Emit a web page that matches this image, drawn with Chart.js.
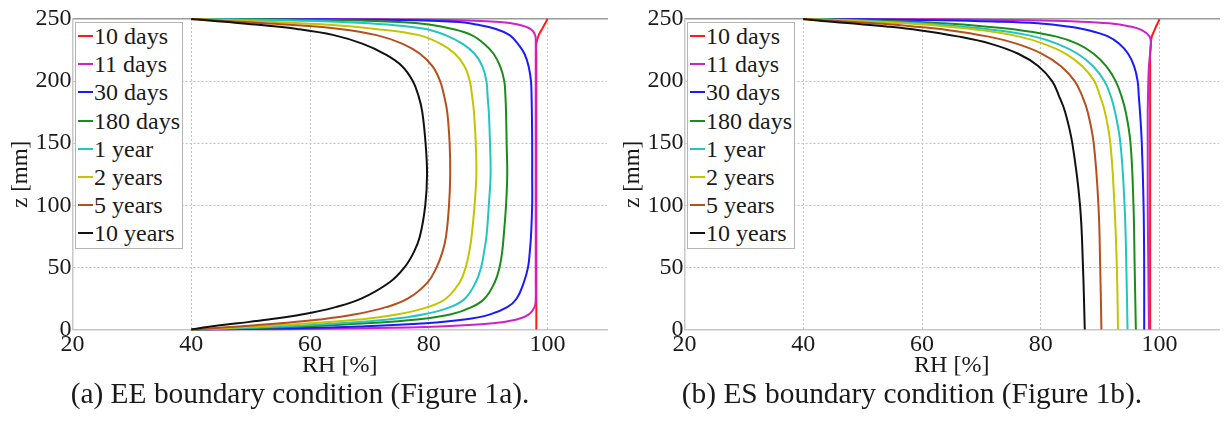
<!DOCTYPE html>
<html>
<head>
<meta charset="utf-8">
<script src="https://cdn.jsdelivr.net/npm/chart.js@4.4.0/dist/chart.umd.min.js"></script>
<style>
  body { margin: 0; background: #fff; }
  #wrap { position: relative; width: 1224px; height: 421px; font-family: "Liberation Serif", serif; color: #1a1a1a; }
  .panel { position: absolute; top: 0; width: 612px; height: 421px; }
  .panel canvas { position: absolute; left: 0; top: 0; }
  .legend { position: absolute; left: 75px; top: 21.7px; width: 108px; height: 227px; box-sizing: border-box;
            border: 1px solid #b4b4b4; background: #fff; padding-top: 0; }
  .legend .row { display: flex; align-items: center; height: 28.2px; font-size: 24px; line-height: 1; white-space: nowrap; position: relative; top: -0.8px; }
  .legend .swatch { width: 15px; height: 2px; margin-left: 2px; margin-right: 1px; flex: none; }
  .caption { position: absolute; left: 0; top: 378.8px; width: 600px; text-align: center; font-size: 29.4px; line-height: 28px; }
</style>
</head>
<body>
<div id="wrap">
  <div class="panel" style="left:0">
    <canvas id="chartEE" width="612" height="421"></canvas>
    <div class="legend" id="legendEE"></div>
    <div class="caption">(a) EE boundary condition (Figure 1a).</div>
  </div>
  <div class="panel" style="left:612px">
    <canvas id="chartES" width="612" height="421"></canvas>
    <div class="legend" id="legendES"></div>
    <div class="caption">(b) ES boundary condition (Figure 1b).</div>
  </div>
</div>
<script>
const seriesNames = ['10 days', '11 days', '30 days', '180 days', '1 year', '2 years', '5 years', '10 years'];
const seriesColors = ['#ff1a1a', '#cc22cc', '#1a1aff', '#1a8c1a', '#22c4c4', '#c4c400', '#b5501c', '#111111'];

const rhTicks = [20, 40, 60, 80, 100];
const zTicks = [0, 50, 100, 150, 200, 250];

// (a) EE: both faces exposed, z [mm] vs RH [%]
const eeZ = [0, 0.3, 1, 2.5, 5, 8, 12, 18, 25, 38, 50, 62.5, 75, 100, 125, 150, 175, 187.5, 200, 212, 222, 230, 237, 242, 245.5, 247.5, 249, 249.7, 250];
const ee10Days = [98.1, 98.1, 98.1, 98.1, 98.1, 98.1, 98.1, 98.1, 98.1, 98.1, 98.1, 98.1, 98.1, 98.1, 98.1, 98.1, 98.1, 98.1, 98.1, 98.1, 98.1, 98.1, 98.5, 99.07, 99.48, 99.71, 99.88, 99.97, 100];
const ee11Days = [40, 55, 68.5, 81.8, 90.8, 94.8, 96.8, 97.8, 98.0, 98.0, 98.0, 98.0, 98.0, 98.0, 98.0, 98.0, 98.0, 98.0, 98.0, 98.0, 98.0, 98.0, 97.9, 97.1, 95.0, 92.0, 85.5, 72.0, 40];
const ee30Days = [40, 46, 56.5, 68.3, 79.5, 86.0, 90.2, 93.2, 94.8, 96.0, 96.7, 97.0, 97.2, 97.4, 97.4, 97.4, 97.35, 97.3, 97.2, 96.8, 96.1, 95.0, 93.6, 91.3, 88.0, 85.0, 78.0, 62.0, 40];
const ee180Days = [40, 43, 49, 59.0, 69.5, 78.0, 83.6, 87.2, 89.4, 91.1, 91.9, 92.35, 92.6, 93.0, 93.2, 93.1, 93.0, 92.9, 92.7, 92.0, 90.9, 89.3, 87.2, 84.0, 80.0, 75.0, 66.0, 53.0, 40];
const ee1Year = [40, 42.3, 46.8, 55.0, 65.0, 73.2, 79.0, 83.6, 86.1, 87.9, 88.8, 89.3, 89.7, 90.1, 90.4, 90.3, 90.1, 89.9, 89.7, 89.0, 87.7, 85.7, 82.8, 79.5, 73.0, 65.5, 55.0, 46.0, 40];
const ee2Years = [40, 41.8, 45.3, 51.3, 60.0, 68.2, 74.6, 79.8, 82.9, 85.2, 86.2, 86.8, 87.2, 87.7, 88.0, 87.9, 87.6, 87.3, 86.9, 86.0, 84.4, 82.0, 78.3, 71.0, 62.5, 54.0, 46.5, 42.3, 40];
const ee5Years = [40, 41.3, 43.6, 48.0, 55.0, 61.6, 67.4, 72.8, 76.5, 79.8, 81.3, 82.3, 82.9, 83.4, 83.6, 83.5, 83.1, 82.6, 81.9, 80.6, 78.5, 75.6, 71.2, 65.0, 56.0, 49.0, 44.0, 41.2, 40];
const ee10Years = [40, 40.4, 41.3, 43.3, 47.8, 53.0, 58.6, 64.3, 68.7, 73.4, 75.9, 77.5, 78.5, 79.4, 79.7, 79.45, 78.9, 78.3, 77.3, 75.5, 72.5, 68.9, 64.0, 57.8, 50.8, 46.2, 42.5, 40.7, 40];

// (b) ES: top face exposed, bottom sealed
const esZ = [0, 50, 100, 150, 175, 187.5, 200, 212, 222, 230, 236, 241, 244, 246.5, 248, 249, 249.7, 250];
const es10Days = [98.4, 98.4, 98.4, 98.4, 98.4, 98.4, 98.4, 98.4, 98.4, 98.5, 98.7, 99.15, 99.4, 99.65, 99.8, 99.9, 99.97, 100];
const es11Days = [98.2, 98.1, 98.0, 98.0, 98.0, 98.05, 98.1, 98.2, 98.4, 98.55, 98.3, 97.0, 95.0, 91.5, 86.0, 78.0, 63.0, 40];
const es30Days = [97.4, 97.4, 97.3, 97.0, 96.7, 96.5, 96.3, 95.7, 94.7, 93.2, 91.3, 88.0, 84.5, 79.5, 72.0, 63.0, 50.0, 40];
const es180Days = [96.0, 95.8, 95.6, 95.1, 94.3, 93.6, 92.6, 91.0, 88.9, 86.2, 82.5, 76.5, 70.5, 63.5, 56.5, 50.0, 44.0, 40];
const es1Year = [94.6, 94.4, 94.1, 93.4, 92.5, 91.8, 90.7, 88.8, 86.2, 82.8, 78.8, 72.5, 66.5, 59.5, 53.0, 47.5, 42.5, 40];
const es2Years = [93.0, 92.8, 92.4, 91.7, 90.8, 90.0, 89.0, 87.0, 84.2, 80.5, 76.2, 70.0, 64.0, 57.0, 51.0, 46.0, 42.0, 40];
const es5Years = [90.2, 90.0, 89.7, 88.9, 87.9, 87.0, 85.7, 83.4, 80.2, 76.0, 71.0, 64.5, 58.5, 52.0, 47.0, 43.5, 41.0, 40];
const es10Years = [87.4, 87.1, 86.6, 85.3, 84.1, 83.1, 81.9, 79.6, 76.2, 71.6, 66.0, 59.5, 54.0, 48.0, 44.3, 42.0, 40.6, 40];

const FONT = '"Liberation Serif", serif';
const TEXT = '#1a1a1a';
const GRID = '#c4c4c4';

function buildLegend(id) {
  const el = document.getElementById(id);
  el.innerHTML = seriesNames.map((name, i) =>
    `<div class="row"><span class="swatch" style="background:${seriesColors[i]}"></span>${name}</div>`
  ).join('');
}

function makeChart(canvasId, zValues, curves) {
  const datasets = curves.map((rh, i) => ({
    label: seriesNames[i],
    data: rh.map((v, k) => ({ x: v, y: zValues[k] })),
    borderColor: seriesColors[i],
    borderWidth: 2,
    pointRadius: 0,
    tension: 0.4,
    fill: false,
    clip: false,
    order: -i
  }));

  return new Chart(document.getElementById(canvasId), {
    type: 'line',
    data: { datasets },
    options: {
      responsive: false,
      animation: false,
      layout: { padding: { top: 19, right: 5, left: 0, bottom: 0 } },
      plugins: { legend: { display: false }, tooltip: { enabled: false } },
      scales: {
        x: {
          type: 'linear', position: 'bottom', min: 20, max: 110,
          afterBuildTicks: s => { s.ticks = rhTicks.map(v => ({ value: v })); },
          afterFit: s => { s.height = 91.5; },
          grid: { color: c => (c.tick && c.tick.value === 20) ? 'rgba(0,0,0,0)' : GRID, drawTicks: false },
          border: { color: '#c8c8c8', width: 1.5, dash: [2, 2] },
          ticks: { color: TEXT, font: { family: FONT, size: 24 }, padding: 1, maxRotation: 0 },
          title: { display: true, text: 'RH [%]', color: TEXT, font: { family: FONT, size: 24, lineHeight: 1 }, padding: { top: 0, bottom: 43 } }
        },
        xTop: {
          type: 'linear', position: 'top', min: 20, max: 110,
          afterFit: s => { s.height = 0; },
          grid: { display: false, drawTicks: false },
          border: { color: '#9a9a9a', width: 1.5 },
          ticks: { display: false }
        },
        y: {
          type: 'linear', position: 'left', min: 0, max: 250,
          afterBuildTicks: s => { s.ticks = zTicks.map(v => ({ value: v })); },
          afterFit: s => { s.width = 72.5; },
          grid: { color: c => (c.tick && (c.tick.value === 0 || c.tick.value === 250)) ? 'rgba(0,0,0,0)' : GRID, drawTicks: false },
          border: { color: '#c8c8c8', width: 1.5, dash: [2, 2] },
          ticks: { color: TEXT, font: { family: FONT, size: 24 }, padding: 1 },
          title: { display: true, text: 'z [mm]', color: TEXT, font: { family: FONT, size: 23, lineHeight: 1 }, padding: { top: 9.5, bottom: 0 } }
        }
      }
    }
  });
}

buildLegend('legendEE');
buildLegend('legendES');
makeChart('chartEE', eeZ, [ee10Days, ee11Days, ee30Days, ee180Days, ee1Year, ee2Years, ee5Years, ee10Years]);
makeChart('chartES', esZ, [es10Days, es11Days, es30Days, es180Days, es1Year, es2Years, es5Years, es10Years]);
</script>
</body>
</html>
